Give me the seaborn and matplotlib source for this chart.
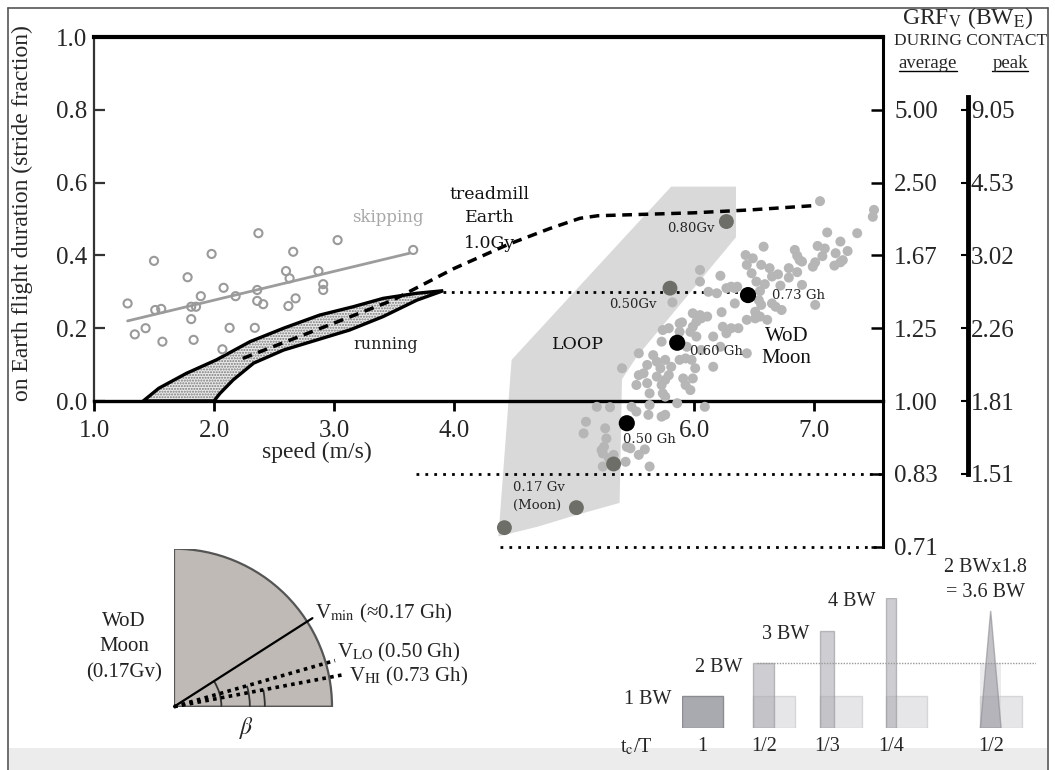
import numpy as np
import pandas as pd
import seaborn as sns
import matplotlib.pyplot as plt
from matplotlib.patches import Wedge, Arc, Rectangle, Polygon
from matplotlib.lines import Line2D

W, H = 1055, 770

# ---------------- DATA ---------------- #

# skipping (open circles) + fitted line
skip_speed = [1.28, 1.34, 1.43, 1.50, 1.51, 1.56, 1.57, 1.78, 1.81, 1.81, 1.85,
              1.83, 1.89, 1.98, 2.07, 2.08, 2.13, 2.18, 2.34, 2.37, 2.36, 2.36,
              2.41, 2.60, 2.62, 2.63, 2.66, 2.68, 2.87, 2.91, 2.91, 3.03, 3.66]
skip_flight = [0.268, 0.183, 0.200, 0.385, 0.250, 0.253, 0.163, 0.340, 0.225,
               0.259, 0.259, 0.168, 0.288, 0.404, 0.142, 0.311, 0.201, 0.288,
               0.201, 0.461, 0.305, 0.275, 0.266, 0.357, 0.261, 0.337, 0.410,
               0.282, 0.357, 0.321, 0.305, 0.442, 0.415]
skip_fit_speed = [1.28, 3.63]
skip_fit_flight = [0.220, 0.406]

# running band (upper edge, then lower edge back)
run_upper_speed = [1.41, 1.54, 1.77, 2.02, 2.30, 2.58, 2.88, 3.16, 3.41, 3.69, 3.91]
run_upper_flight = [0.0, 0.035, 0.076, 0.113, 0.163, 0.200, 0.236, 0.259, 0.282, 0.296, 0.303]
run_lower_speed = [3.91, 3.69, 3.41, 3.13, 2.86, 2.58, 2.33, 2.16, 2.05, 2.00]
run_lower_flight = [0.303, 0.277, 0.232, 0.195, 0.168, 0.140, 0.104, 0.058, 0.021, 0.0]

# treadmill Earth 1.0G
tread_speed = [2.24, 2.60, 3.00, 3.49, 4.00, 4.45, 4.80, 5.05, 5.20, 6.00, 6.47, 7.01]
tread_flight = [0.117, 0.163, 0.214, 0.277, 0.364, 0.430, 0.474, 0.502, 0.509, 0.517, 0.525, 0.537]

# LOOP region
loop_speed = [5.81, 6.35, 6.35, 5.52, 5.40, 5.38, 5.00, 4.70, 4.37, 4.48]
loop_flight = [0.589, 0.589, 0.45, 0.12, 0.06, -0.28, -0.315, -0.345, -0.372, 0.113]

# WoD Moon cloud
wod_speed = [7.05, 7.50, 7.49, 7.11, 7.36, 7.22, 6.58, 7.03, 7.09, 6.84, 7.28, 7.18,
             6.43, 6.86, 7.07, 6.49, 6.90, 7.01, 7.22, 6.44, 6.56, 6.99, 7.17, 6.63,
             6.48, 6.70, 6.86, 6.65, 6.79, 6.52, 6.59, 6.72, 6.90, 6.55, 6.34, 6.54,
             6.65, 6.56, 6.68, 6.73, 7.01, 6.51, 6.44, 6.51, 6.37,
             6.22, 6.05, 6.31, 6.12, 6.19, 5.82, 5.99, 6.23, 6.06, 6.02, 6.11, 5.90,
             5.79, 5.97, 6.31,
             6.05, 6.27, 6.36, 6.05, 6.34, 5.88, 5.99, 6.24, 5.74, 5.88, 6.02, 6.16,
             6.27, 5.73, 5.94, 6.06, 6.22, 6.44, 5.54, 5.66, 5.76, 5.88, 5.98, 5.40,
             5.61, 5.72, 5.81, 6.16, 5.58, 5.69, 5.76, 5.99, 5.52, 5.61, 5.73, 5.63,
             5.74, 5.97, 5.19, 5.30, 5.48, 5.63, 6.09, 5.62, 5.73, 5.10, 5.08, 5.26,
             5.27, 5.25, 5.47, 5.59, 5.54, 5.24, 5.33, 5.43, 5.24, 5.63, 5.29, 5.52,
             5.69, 5.93, 6.01, 5.54, 5.79, 5.91, 5.93, 5.76, 5.86, 5.76, 5.23, 5.44,
             7.24, 6.88, 6.79, 6.55, 6.61]
wod_flight = [0.549, 0.525, 0.506, 0.463, 0.461, 0.438, 0.424, 0.426, 0.419, 0.415,
              0.412, 0.406, 0.401, 0.399, 0.398, 0.392, 0.383, 0.381, 0.381, 0.374,
              0.374, 0.369, 0.372, 0.365, 0.351, 0.348, 0.354, 0.342, 0.339, 0.328,
              0.321, 0.317, 0.319, 0.302, 0.310, 0.277, 0.268, 0.264, 0.259, 0.250,
              0.264, 0.245, 0.223, 0.227, 0.200,
              0.344, 0.328, 0.314, 0.300, 0.296, 0.271, 0.241, 0.244, 0.227, 0.218,
              0.232, 0.216, 0.200, 0.190, 0.200,
              0.360, 0.310, 0.314, 0.236, 0.268, 0.213, 0.204, 0.204, 0.195, 0.190,
              0.177, 0.177, 0.186, 0.163, 0.149, 0.140, 0.149, 0.131, 0.131, 0.126,
              0.113, 0.113, 0.113, 0.090, 0.099, 0.090, 0.094, 0.094, 0.076, 0.067,
              0.058, 0.062, 0.044, 0.049, 0.044, 0.021, 0.021, 0.030, -0.016, -0.017,
              -0.016, -0.011, -0.016, -0.038, -0.043, -0.057, -0.089, -0.075, -0.103,
              -0.126, -0.130, -0.133, -0.148, -0.144, -0.148, -0.167, -0.180, -0.180,
              -0.157, -0.029,
              0.108, 0.117, 0.090, 0.071, 0.071, 0.062, 0.044, 0.012, -0.006, -0.038,
              -0.135, -0.126,
              0.387, 0.387, 0.365, 0.232, 0.223]

# vertical-gravity (Gv) and horizontal-gravity (Gh) reference points
gv_speed = [6.27, 5.80, 5.33, 5.02, 4.42]
gv_flight = [0.493, 0.310, -0.173, -0.293, -0.348]
gh_speed = [6.45, 5.86, 5.44]
gh_flight = [0.291, 0.160, -0.061]
gh_labels = ["0.73 Gh", "0.60 Gh", "0.50 Gh"]

# horizontal reference lines
ref_speed = [3.91, 6.45]
ref_flight = [0.30, 0.30]

# axes ticks
x_ticks = [1.0, 2.0, 3.0, 4.0, 5.0, 6.0, 7.0]
y_ticks = [0.0, 0.2, 0.4, 0.6, 0.8, 1.0]
grf_pos = [0.8, 0.6, 0.4, 0.2, 0.0, -0.2, -0.4]
grf_avg = ["5.00", "2.50", "1.67", "1.25", "1.00", "0.83", "0.71"]
grf_peak_pos = [0.8, 0.6, 0.4, 0.2, 0.0, -0.2]
grf_peak = ["9.05", "4.53", "3.02", "2.26", "1.81", "1.51"]

# inclination panel (beta angle for each speed, degrees)
beta_names = [r"V$_{\rm min}$ (≈0.17 Gh)", r"V$_{\rm LO}$ (0.50 Gh)", r"V$_{\rm HI}$ (0.73 Gh)"]
beta_deg = [32.6, 16.0, 10.7]

# contact-time panel
bw_levels = [1, 2, 3, 4, 3.6]
tc_frac = [1, 1 / 2, 1 / 3, 1 / 4, 1 / 2]
tc_labels = ["1", "1/2", "1/3", "1/4", "1/2"]


# ---------------- HELPERS ---------------- #

def fx(px):
    return px / W


def fy(py):
    return 1 - py / H


def px_axes(left, top, right, bottom):
    return [fx(left), fy(bottom), (right - left) / W, (bottom - top) / H]


sns.set_theme(style="white")
plt.rcParams["font.family"] = ["Liberation Serif", "DejaVu Serif"]
plt.rcParams["mathtext.fontset"] = "stix"

fig = plt.figure(figsize=(W / 100, H / 100), dpi=100)
fig.patch.set_facecolor("white")

SERIF2 = "DejaVu Serif"

# ---------------- MAIN AXES ---------------- #
ax = fig.add_axes(px_axes(94, 37, 883, 564.8))
ax.set_xlim(1.0, 1.0 + 789 / 120)
ax.set_ylim(-0.45, 1.0)
ax.patch.set_alpha(0)

# LOOP region
ax.fill(loop_speed, loop_flight, color="#d9d9d9", lw=0, zorder=1)

# running band
band_x = run_upper_speed + run_lower_speed
band_y = run_upper_flight + run_lower_flight
ax.fill(band_x, band_y, facecolor="#eaeaea", edgecolor="#7a7a7a", hatch="......",
        lw=0, zorder=2)
ax.fill(band_x, band_y, facecolor="none", edgecolor="black", lw=2.4, zorder=3)

# skipping
sns.lineplot(x=skip_fit_speed, y=skip_fit_flight, ax=ax, color="#9c9c9c", lw=2,
             zorder=3)
ax.scatter(skip_speed, skip_flight, s=34, facecolors="none", edgecolors="#9a9a9a",
           linewidths=1.5, zorder=3)

# reference dotted lines
ax.plot(ref_speed, ref_flight, color="black", lw=2, ls=(0, (1, 2)), zorder=4)
ax.plot([3.68, ax.get_xlim()[1]], [grf_pos[5]] * 2, color="black", lw=2,
        ls=(0, (1, 2.2)), zorder=4, clip_on=False)
ax.plot([4.38, ax.get_xlim()[1]], [grf_pos[6]] * 2, color="black", lw=2,
        ls=(0, (1, 2.2)), zorder=4, clip_on=False)

# treadmill dashed
ax.plot(tread_speed, tread_flight, color="black", lw=2.5, ls=(0, (2.8, 1.9)),
        zorder=4)

# WoD cloud
sns.scatterplot(x=wod_speed, y=wod_flight, ax=ax, s=52, color="#b6b6b6",
                edgecolor="none", linewidth=0, zorder=5, legend=False)
sns.scatterplot(x=gv_speed, y=gv_flight, ax=ax, s=115, color="#6e6e68",
                edgecolor="none", linewidth=0, zorder=6, legend=False)
sns.scatterplot(x=gh_speed, y=gh_flight, ax=ax, s=135, color="black",
                edgecolor="none", linewidth=0, zorder=7, legend=False)

# text labels inside plot
ax.text(3.45, 0.505, "skipping", color="#a8a8a8", fontsize=12, family=SERIF2,
        ha="center", va="center", zorder=8)
ax.text(3.43, 0.154, "running", color="#222222", fontsize=11.5, family=SERIF2,
        ha="center", va="center", zorder=8)
for yy, s in zip([0.566, 0.503, 0.434], ["treadmill", "Earth", "1.0Gy"]):
    ax.text(4.30, yy, s, fontsize=12.5, family=SERIF2, color="#111111",
            ha="center", va="center", zorder=8)
ax.text(5.03, 0.154, "LOOP", fontsize=12.5, family=SERIF2, color="#111111",
        ha="center", va="center", zorder=8)
ax.text(6.77, 0.177, "WoD", fontsize=15, color="#111111", ha="center",
        va="center", zorder=8)
ax.text(6.77, 0.118, "Moon", fontsize=15, color="#111111", ha="center",
        va="center", zorder=8)
ax.text(5.97, 0.474, "0.80Gv", fontsize=9.5, family=SERIF2, ha="center",
        va="center", zorder=8)
ax.text(5.49, 0.266, "0.50Gv", fontsize=9.5, family=SERIF2, ha="center",
        va="center", zorder=8)
ax.text(4.49, -0.237, "0.17 Gv", fontsize=9.5, family=SERIF2, ha="left",
        va="center", zorder=8)
ax.text(4.49, -0.287, "(Moon)", fontsize=9.5, family=SERIF2, ha="left",
        va="center", zorder=8)
for (sx, sy), lab, dx, dy in zip(zip(gh_speed, gh_flight), gh_labels,
                                 [0.20, 0.11, -0.03], [0.0, -0.025, -0.045]):
    ax.text(sx + dx, sy + dy, lab, fontsize=9.5, family=SERIF2, ha="left",
            va="center", zorder=8)

# axis label text
ax.text(2.86, -0.14, "speed (m/s)", fontsize=17, ha="center", va="center")
ax.text(-0.091, 0.666, "on Earth flight duration (stride fraction)",
        transform=ax.transAxes, rotation=90, fontsize=17, ha="center",
        va="center")

# spines and ticks
for side in ["left", "top", "bottom", "right"]:
    ax.spines[side].set_color("black")
ax.spines["right"].set_visible(False)
ax.spines["left"].set_bounds(0.0, 1.0)
ax.spines["left"].set_linewidth(1.6)
ax.spines["left"].set_color("#333333")
ax.spines["top"].set_linewidth(3)
ax.spines["bottom"].set_position(("data", 0.0))
ax.spines["bottom"].set_linewidth(2.4)
ax.set_xticks(x_ticks)
ax.set_xticklabels([f"{v:.1f}" for v in x_ticks], fontsize=18)
ax.set_yticks(y_ticks)
ax.set_yticklabels([f"{v:.1f}" for v in y_ticks], fontsize=18)
ax.tick_params(axis="x", direction="out", length=7, width=2, pad=7,
               color="black", bottom=True)
ax.tick_params(axis="y", direction="in", length=8, width=1.6, pad=5,
               color="#333333", left=True)

# average GRF axis
ax_avg = ax.twinx()
ax_avg.set_ylim(ax.get_ylim())
for side in ["left", "top", "bottom"]:
    ax_avg.spines[side].set_visible(False)
ax_avg.spines["right"].set_bounds(-0.4, 1.0)
ax_avg.spines["right"].set_linewidth(2.2)
ax_avg.spines["right"].set_color("black")
ax_avg.set_yticks(grf_pos)
ax_avg.set_yticklabels(grf_avg, fontsize=18)
ax_avg.tick_params(axis="y", direction="in", length=9, width=1.8, pad=8,
                   right=True, color="black")
ax_avg.grid(False)

# peak GRF axis
ax_pk = ax.twinx()
ax_pk.set_ylim(ax.get_ylim())
for side in ["left", "top", "bottom"]:
    ax_pk.spines[side].set_visible(False)
ax_pk.spines["right"].set_position(("axes", (968 - 94) / 789))
ax_pk.spines["right"].set_bounds(grf_peak_pos[-1], 0.835)
ax_pk.spines["right"].set_linewidth(3.5)
ax_pk.spines["right"].set_color("black")
ax_pk.set_yticks(grf_peak_pos)
ax_pk.set_yticklabels(grf_peak, fontsize=18)
ax_pk.tick_params(axis="y", direction="in", length=5, width=1.5, pad=2,
                  right=True, color="black")
ax_pk.grid(False)

# header of GRF axes
fig.text(fx(968), fy(18), r"GRF$_{\rm V}$ (BW$_{\rm E}$)", fontsize=17,
         ha="center", va="center")
fig.text(fx(971), fy(41), "DURING CONTACT", fontsize=12.5, ha="center",
         va="center")
t_avg = fig.text(fx(928), fy(63), "average", fontsize=13.5, ha="center",
                 va="center")
t_pk = fig.text(fx(1010), fy(63), "peak", fontsize=13.5, ha="center",
                va="center")

# ---------------- INCLINATION PANEL ---------------- #
R = 158
ax_q = fig.add_axes(px_axes(174, 706.7 - R, 174 + 1.2 * R, 706.7))
ax_q.set_xlim(0, 1.2)
ax_q.set_ylim(0, 1)
ax_q.axis("off")
ax_q.add_patch(Wedge((0, 0), 1.0, 0, 90, facecolor="#bfbab5", edgecolor="#555555",
                     lw=1.6, zorder=1))
line_len = [1.04, 1.06, 1.08]
arc_r = [0.30, 0.48, 0.575]
label_pos = [(0.892, 0.593), (1.03, 0.34), (1.108, 0.19)]
for i, (ang, name) in enumerate(zip(beta_deg, beta_names)):
    a = np.deg2rad(ang)
    ls = "-" if i == 0 else (0, (1, 1.2))
    lw = 1.6 if i == 0 else 2.6
    ax_q.plot([0, line_len[i] * np.cos(a)], [0, line_len[i] * np.sin(a)],
              color="black", lw=lw, ls=ls, clip_on=False, zorder=3)
    ax_q.add_patch(Arc((0, 0), 2 * arc_r[i], 2 * arc_r[i], theta1=0, theta2=ang,
                       color="#333333", lw=1.3, zorder=2))
    ax_q.text(label_pos[i][0], label_pos[i][1], name, fontsize=15, ha="left",
              va="center", clip_on=False)
ax_q.text(0.46, -0.135, r"$\beta$", fontsize=17, ha="center", va="center")
for yy, s in zip([0.54, 0.38, 0.215], ["WoD", "Moon", "(0.17Gv)"]):
    ax_q.text(-0.316, yy, s, fontsize=15, ha="center", va="center",
              color="#222222")

# ---------------- CONTACT-TIME PANEL ---------------- #
U = 41.7
ax_b = fig.add_axes(px_axes(681.7, 728.3 - 4 * 32.6, 681.7 + 8.5 * U, 728.3))
ax_b.set_xlim(0, 8.5)
ax_b.set_ylim(0, 4)
ax_b.axis("off")
slot_left = [0, 1.72, 3.32, 4.89, 7.16]

ax_b.plot([1.8, 8.5], [bw_levels[1]] * 2, color="#9a9a9a", lw=1,
          ls=(0, (1, 1)), zorder=4)
for i, (bw, tc) in enumerate(zip(bw_levels, tc_frac)):
    left = slot_left[i]
    if i > 0:
        ax_b.add_patch(Rectangle((left, 0), 1, 1, facecolor="#d6d6da",
                                 edgecolor="#c4c4c8", alpha=0.6, lw=1, zorder=1))
    if i == 0:
        ax_b.bar(left, bw, width=tc, align="edge", color="#a9a9b0",
                 edgecolor="#8c8c92", lw=1, zorder=2)
    elif i < 4:
        ax_b.bar(left, bw, width=tc, align="edge", color="#a7a7ae",
                 edgecolor="#8e8e94", alpha=0.55, lw=1, zorder=2)
    else:
        ax_b.add_patch(Rectangle((left, 0), tc, bw_levels[1], facecolor="#c8c8cc",
                                 edgecolor="none", alpha=0.35, zorder=2))
        ax_b.add_patch(Polygon([(left, 0), (left + tc / 2, bw), (left + tc, 0)],
                               closed=True, facecolor="#9a9aa2", edgecolor="#8a8a90",
                               alpha=0.6, lw=1, zorder=3))
    if i < 4:
        ax_b.text(left - 0.25, bw - 0.12, f"{bw} BW", fontsize=14.5, ha="right",
                  va="center", clip_on=False)
    ax_b.text(left + tc / 2, -0.56, tc_labels[i], fontsize=14.5, ha="center",
              va="center", clip_on=False)
ax_b.text(slot_left[4] + 0.13, 4.92, "2 BWx1.8", fontsize=14.5, ha="center",
          va="center", clip_on=False)
ax_b.text(slot_left[4] + 0.13, 4.18, f"= {bw_levels[4]} BW", fontsize=14.5,
          ha="center", va="center", clip_on=False)
ax_b.text(-1.08, -0.56, r"t$_{\rm c}$/T", fontsize=14.5, ha="center",
          va="center", clip_on=False)

# ---------------- FRAME ---------------- #
fig.add_artist(Rectangle((fx(9), 0), fx(1047) - fx(9), 22 / H,
                         transform=fig.transFigure, facecolor="#ececec",
                         edgecolor="none", zorder=0))
for xs, ys in [([fx(8), fx(8)], [0, fy(8)]), ([fx(8), fx(1048)], [fy(8), fy(8)]),
               ([fx(1048), fx(1048)], [0, fy(8)])]:
    fig.add_artist(Line2D(xs, ys, color="#555555", lw=1.2))

# underline average / peak
fig.canvas.draw()
rend = fig.canvas.get_renderer()
for t in (t_avg, t_pk):
    bb = t.get_window_extent(rend).transformed(fig.transFigure.inverted())
    fig.add_artist(Line2D([bb.x0, bb.x1], [bb.y0 + 0.001] * 2, color="black",
                          lw=1))

fig.savefig("out.png", dpi=100)
